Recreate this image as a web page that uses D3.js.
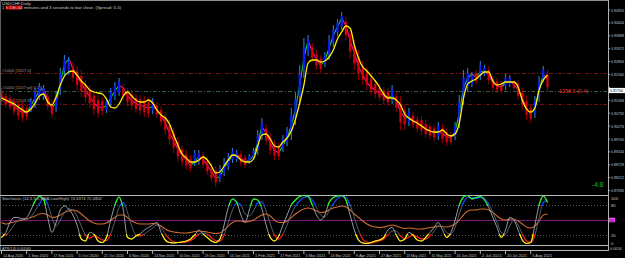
<!DOCTYPE html>
<html>
<head>
<meta charset="utf-8">
<script src="https://cdn.jsdelivr.net/npm/d3@7"></script>
<style>
  html, body { margin: 0; padding: 0; background: #000; }
  svg { display: block; font-family: "Liberation Sans", Arial, sans-serif; }
</style>
</head>
<body>
<div id="chart"></div>
<script>
// USDCHF daily, one bar per two sessions, prices in points (x 10000)
const dateLabels = ["14 Aug 2020", "1 Sep 2020", "17 Sep 2020", "5 Oct 2020", "21 Oct 2020", "6 Nov 2020",
  "24 Nov 2020", "10 Dec 2020", "29 Dec 2020", "14 Jan 2021", "1 Feb 2021", "17 Feb 2021", "5 Mar 2021",
  "24 Mar 2021", "9 Apr 2021", "27 Apr 2021", "13 May 2021", "31 May 2021", "16 Jun 2021", "2 Jul 2021",
  "20 Jul 2021", "5 Aug 2021"];
const priceTicks = [0.94920, 0.94404, 0.93888, 0.93372, 0.92856, 0.92340, 0.91824, 0.91308,
  0.90792, 0.90276, 0.89760, 0.89244, 0.88728, 0.88212, 0.87696];

const hi = [9180,9160,9152,9140,9132,9124,9112,9140,9180,9200,
  9192,9160,9132,9164,9260,9312,9304,9284,9268,9252,
  9212,9192,9172,9152,9144,9140,9180,9204,9220,9196,
  9180,9172,9156,9152,9148,9140,9140,9124,9108,9084,
  9052,9020,8984,8952,8932,8912,8932,8932,8924,8904,
  8880,8868,8872,8900,8920,8940,8932,8928,8912,8916,
  8940,9012,9060,9036,9000,8972,8960,8992,9024,9100,
  9164,9272,9380,9392,9360,9332,9312,9324,9392,9432,
  9456,9484,9464,9420,9372,9332,9292,9264,9236,9212,
  9196,9184,9180,9192,9164,9148,9112,9100,9084,9068,
  9068,9052,9040,9032,9044,9036,9020,9004,9044,9152,
  9252,9260,9244,9252,9288,9272,9268,9228,9220,9208,
  9236,9232,9212,9212,9180,9148,9116,9148,9228,9268,
  9252];
const lo = [9112,9100,9092,9072,9052,9044,9052,9084,9100,9132,
  9132,9092,9060,9084,9152,9232,9232,9204,9172,9144,
  9124,9100,9072,9060,9072,9080,9100,9132,9148,9132,
  9108,9092,9080,9072,9064,9060,9076,9060,9028,8992,
  8952,8920,8884,8868,8852,8844,8868,8872,8860,8832,
  8804,8784,8804,8828,8852,8880,8884,8868,8860,8876,
  8892,8912,8972,8952,8912,8892,8892,8924,8948,8972,
  9032,9112,9220,9308,9284,9252,9240,9264,9292,9344,
  9388,9412,9372,9300,9252,9212,9192,9172,9152,9140,
  9128,9116,9108,9116,9084,9012,9012,9028,9020,9004,
  8992,8980,8976,8968,8972,8960,8948,8952,8972,9020,
  9112,9164,9184,9196,9212,9228,9196,9168,9160,9156,
  9172,9184,9172,9132,9092,9052,9040,9060,9124,9204,
  9164];
const fast = [9146,9130,9120,9106,9092,9082,9080,9110,9140,9168,
  9178,9135,9100,9120,9200,9275,9295,9260,9225,9200,
  9170,9145,9120,9105,9100,9110,9140,9168,9190,9180,
  9150,9130,9118,9110,9105,9100,9105,9095,9070,9040,
  9000,8970,8935,8910,8890,8870,8885,8905,8895,8870,
  8845,8820,8825,8860,8885,8910,8915,8900,8885,8890,
  8910,8960,9025,9000,8960,8930,8920,8950,8980,9030,
  9095,9190,9300,9370,9325,9295,9270,9290,9340,9390,
  9425,9460,9430,9370,9320,9265,9235,9200,9185,9170,
  9160,9150,9140,9150,9130,9085,9060,9062,9052,9038,
  9030,9018,9008,9000,9005,8998,8985,8982,9005,9080,
  9180,9220,9235,9225,9245,9248,9235,9200,9190,9182,
  9200,9208,9195,9172,9138,9100,9075,9100,9170,9235,
  9215];
const slow = [9140,9132,9124,9116,9104,9092,9084,9096,9120,9148,
  9156,9124,9112,9144,9192,9228,9244,9248,9232,9208,
  9192,9172,9164,9160,9156,9136,9104,9100,9116,9148,
  9164,9148,9132,9124,9124,9132,9120,9092,9072,9060,
  9036,8992,8952,8916,8900,8884,8884,8892,8904,8892,
  8868,8840,8844,8868,8892,8912,8908,8892,8884,8884,
  8896,8948,8992,8996,8976,8948,8944,8964,8980,9008,
  9056,9120,9192,9280,9292,9292,9284,9288,9304,9332,
  9376,9404,9428,9420,9352,9300,9264,9248,9228,9208,
  9184,9156,9140,9140,9132,9112,9076,9060,9048,9040,
  9028,9016,9008,9004,9004,9012,8996,8988,8996,9040,
  9140,9196,9208,9216,9232,9244,9244,9208,9192,9196,
  9204,9204,9204,9184,9132,9096,9084,9100,9172,9212,
  9232];

const stochK = [15,25,45,55,55,52,55,70,88,97,
  92,55,25,45,70,78,72,60,40,12,
  8,25,22,8,5,15,50,80,96,70,
  15,12,18,22,30,35,40,45,25,10,
  5,4,5,6,8,12,20,30,22,15,
  8,5,12,40,75,92,85,60,45,70,
  92,90,72,40,15,8,18,40,60,80,
  90,97,99,97,80,60,50,60,85,95,
  98,99,90,60,30,10,4,3,5,8,
  10,15,30,35,20,8,12,25,20,10,
  8,15,25,35,45,30,15,25,50,80,
  96,99,92,95,97,90,75,55,35,15,
  30,55,50,30,10,3,5,40,80,98,
  85];
const stochD = [25,20,28,40,50,53,52,57,68,82,
  93,82,55,38,50,65,72,70,57,38,
  20,14,18,15,10,9,22,48,75,85,
  65,38,20,18,22,28,34,40,35,22,
  12,6,5,5,6,9,14,22,24,22,
  14,9,8,20,45,70,84,80,62,58,
  68,84,86,68,42,20,12,22,40,62,
  78,88,95,97,90,75,60,56,68,82,
  93,97,95,80,55,30,12,6,4,6,
  8,12,20,28,28,18,12,16,20,16,
  12,12,18,27,38,36,25,22,35,62,
  85,95,95,93,95,93,82,65,45,25,
  22,38,50,40,22,8,5,20,55,85,
  90];
const stochSlow = [45,42,44,46,48,50,52,55,58,62,
  63,60,55,56,60,65,68,70,68,62,
  55,48,44,42,42,44,50,55,60,60,
  55,48,44,42,42,42,43,42,38,32,
  28,26,25,24,24,25,27,28,27,26,
  24,23,24,30,38,45,48,48,46,47,
  50,55,60,62,58,50,45,45,48,55,
  62,68,72,74,72,68,65,66,70,74,
  76,78,76,70,62,55,48,42,38,36,
  35,36,38,40,38,35,33,34,33,32,
  32,33,35,36,38,37,36,38,42,50,
  60,68,70,70,72,72,70,65,58,52,
  50,52,52,48,42,36,34,38,48,60,
  62];
const stochLevels = [100, 80, 50, 20, 0];

const levelPrices = [9240, 9170, 9118];
const levelTexts = ["#1000 [1107.0]", "#1000 [1107 pt] 0.34", "#1000 [1103.3]"];
const lastPrice = 9170;

const W = 625, H = 258, plotR = 608;

const svg = d3.select("#chart").append("svg")
  .attr("width", W).attr("height", H);
svg.append("rect").attr("width", W).attr("height", H).attr("fill", "#000");

const x = d3.scaleLinear([0, hi.length - 1], [1.5, 547.5]);
const y = d3.scaleLinear([8700, 9500], [208, 8]);
const ys = d3.scaleLinear([0, 100], [245, 195]);

const defs = svg.append("defs");
defs.append("clipPath").attr("id", "mainClip")
  .append("rect").attr("x", 0).attr("y", 1).attr("width", plotR).attr("height", 194);
defs.append("clipPath").attr("id", "subClip")
  .append("rect").attr("x", 0).attr("y", 195.5).attr("width", plotR).attr("height", 50);
defs.append("clipPath").attr("id", "topZone")
  .append("rect").attr("x", 0).attr("y", 190).attr("width", plotR).attr("height", ys(80) - 190 + 1);
defs.append("clipPath").attr("id", "botZone")
  .append("rect").attr("x", 0).attr("y", ys(20) - 1).attr("width", plotR).attr("height", 250 - ys(20));

// ---- main window
const main = svg.append("g").attr("clip-path", "url(#mainClip)");

// order / level lines
main.selectAll("line.lvl")
  .data(levelPrices)
  .join("line")
    .attr("x1", 0).attr("x2", plotR)
    .attr("y1", d => Math.round(y(d)) + 0.5).attr("y2", d => Math.round(y(d)) + 0.5)
    .attr("stroke", (d, i) => i === 1 ? "#3c5a48" : "#7a1010")
    .attr("stroke-width", 1)
    .attr("stroke-dasharray", "4,2,1,2");

main.selectAll("text.lvl")
  .data(levelPrices)
  .join("text")
    .attr("x", 2).attr("y", d => y(d) - 1.5)
    .attr("fill", "#9a9a9a").attr("font-size", 4.4)
    .text((d, i) => levelTexts[i]);

const I = d3.range(hi.length);
const up = i => i === 0 ? fast[1] >= fast[0] : fast[i] >= fast[i - 1];

// fast line, coloured by direction (under the bars)
main.append("g").selectAll("line")
  .data(I.slice(1))
  .join("line")
    .attr("x1", i => x(i - 1)).attr("y1", i => y(fast[i - 1]))
    .attr("x2", i => x(i)).attr("y2", i => y(fast[i]))
    .attr("stroke", i => fast[i] >= fast[i - 1] ? "#18d030" : "#f01c8c")
    .attr("stroke-width", 1.1)
    .attr("stroke-linecap", "round");

// bars
main.append("g").selectAll("line")
  .data(I)
  .join("line")
    .attr("x1", i => x(i)).attr("x2", i => x(i))
    .attr("y1", i => y(hi[i])).attr("y2", i => y(lo[i]))
    .attr("stroke", i => up(i) ? "#2a78d8" : "#8a0000")
    .attr("stroke-width", 1.1);

main.append("g").selectAll("rect")
  .data(I)
  .join("rect")
    .attr("x", i => x(i) - 1.1)
    .attr("width", 2.2)
    .attr("y", i => y(hi[i]) + (y(lo[i]) - y(hi[i])) * 0.22)
    .attr("height", i => (y(lo[i]) - y(hi[i])) * 0.56)
    .attr("fill", i => up(i) ? "#0a1cff" : "#d8000a");

// slow line
main.append("path")
  .datum(I)
  .attr("fill", "none")
  .attr("stroke", "#ffee00")
  .attr("stroke-width", 1.3)
  .attr("d", d3.line().x(i => x(i)).y(i => y(slow[i])).curve(d3.curveMonotoneX));

// header texts
svg.append("text").attr("x", 2).attr("y", 4.5)
  .attr("fill", "#c8c8c8").attr("font-size", 4.4).text("USDCHF,Daily");
svg.append("rect").attr("x", 6).attr("y", 5.6).attr("width", 16).attr("height", 4).attr("fill", "#d00000");
svg.append("text").attr("x", 2).attr("y", 9.2)
  .attr("fill", "#c8c8c8").attr("font-size", 4.4)
  .text("1 h 13h 44 minutes and 3 seconds to bar close. (Spread: 0.4)");

svg.append("text").attr("x", 559).attr("y", y(lastPrice) + 2)
  .attr("fill", "#ff2020").attr("font-size", 5.4).text("1258.3 (0.4)");
svg.append("text").attr("x", 592).attr("y", 187)
  .attr("fill", "#10c020").attr("font-size", 6.6).text("-4.8");

// ---- price axis
svg.append("line").attr("x1", plotR + 0.5).attr("x2", plotR + 0.5).attr("y1", 0).attr("y2", 251)
  .attr("stroke", "#b0b0b0");
svg.append("g").selectAll("line")
  .data(priceTicks)
  .join("line")
    .attr("x1", plotR).attr("x2", plotR + 2)
    .attr("y1", d => y(d * 10000)).attr("y2", d => y(d * 10000))
    .attr("stroke", "#b0b0b0");
svg.append("g").selectAll("text")
  .data(priceTicks.filter(d => Math.abs(y(d * 10000) - y(lastPrice)) > 5))
  .join("text")
    .attr("x", plotR + 3).attr("y", d => y(d * 10000) + 1.5)
    .attr("fill", "#c0c0c0").attr("font-size", 4.2)
    .attr("textLength", 13).attr("lengthAdjust", "spacingAndGlyphs")
    .text(d => d.toFixed(5));
svg.append("rect").attr("x", plotR + 1).attr("y", y(lastPrice) - 2.6)
  .attr("width", 16).attr("height", 5.2).attr("fill", "#ffffff");
svg.append("text").attr("x", plotR + 2).attr("y", y(lastPrice) + 1.5)
  .attr("fill", "#000").attr("font-size", 4.2)
  .attr("textLength", 13).attr("lengthAdjust", "spacingAndGlyphs")
  .text((lastPrice / 10000).toFixed(5));

// frame
svg.append("line").attr("x1", 0).attr("x2", plotR).attr("y1", 0.5).attr("y2", 0.5).attr("stroke", "#909090");
svg.append("line").attr("x1", 0.5).attr("x2", 0.5).attr("y1", 0).attr("y2", 251).attr("stroke", "#606060");

// ---- stochastic window
[195.5, 245.5, 250.5].forEach(v => {
  svg.append("line").attr("x1", 0).attr("x2", plotR).attr("y1", v).attr("y2", v)
    .attr("stroke", "#b8b8b8").attr("stroke-width", 1);
});

const sub = svg.append("g").attr("clip-path", "url(#subClip)");
sub.selectAll("line.lv")
  .data([80, 20])
  .join("line")
    .attr("x1", 0).attr("x2", plotR)
    .attr("y1", d => Math.round(ys(d)) + 0.5).attr("y2", d => Math.round(ys(d)) + 0.5)
    .attr("stroke", "#5a5a5a").attr("stroke-dasharray", "1,2");
sub.append("line")
  .attr("x1", 0).attr("x2", plotR)
  .attr("y1", Math.round(ys(50)) + 0.5).attr("y2", Math.round(ys(50)) + 0.5)
  .attr("stroke", "#7a1a7a");

const sLine = arr => d3.line().x(i => x(i)).y(i => ys(arr[i])).curve(d3.curveMonotoneX)(I);

sub.append("path").attr("d", sLine(stochSlow))
  .attr("fill", "none").attr("stroke", "#d06a2e").attr("stroke-width", 1.1);

const kdSeries = [
  { arr: stochD, mid: "#5c6d7c", top: "#1040ff", bot: "#ff1010" },
  { arr: stochK, mid: "#a8aeb4", top: "#10ff20", bot: "#ffee00" }
];
kdSeries.forEach(s => {
  sub.append("path").attr("d", sLine(s.arr))
    .attr("fill", "none").attr("stroke", s.mid).attr("stroke-width", 0.9);
  sub.append("path").attr("d", sLine(s.arr)).attr("clip-path", "url(#topZone)")
    .attr("fill", "none").attr("stroke", s.top).attr("stroke-width", 1.2);
  sub.append("path").attr("d", sLine(s.arr)).attr("clip-path", "url(#botZone)")
    .attr("fill", "none").attr("stroke", s.bot).attr("stroke-width", 1.2);
});

svg.append("text").attr("x", 2).attr("y", 200)
  .attr("fill", "#c0c0c0").attr("font-size", 4.2)
  .text("Stochastic (14,3,3,1,SMA,Low/High) 74.6374 72.0802");

svg.append("g").selectAll("text")
  .data(stochLevels.filter(d => d !== 50))
  .join("text")
    .attr("x", plotR + 3).attr("y", d => Math.min(Math.max(ys(d), 198), 243) + 1.5)
    .attr("fill", "#c0c0c0").attr("font-size", 4.2)
    .text(d => d);
svg.append("rect").attr("x", plotR + 1).attr("y", ys(50) - 2.3).attr("width", 6).attr("height", 4.6)
  .attr("fill", "#ff40ff");
svg.append("text").attr("x", plotR + 1.5).attr("y", ys(50) + 1.5)
  .attr("fill", "#000").attr("font-size", 4).text("50");

// ATR window
svg.append("text").attr("x", 2).attr("y", 249.6)
  .attr("fill", "#c0c0c0").attr("font-size", 3.8).text("ATR(14) 0.00540");
svg.append("text").attr("x", plotR + 2).attr("y", 249.8)
  .attr("fill", "#c0c0c0").attr("font-size", 3.8).text("0.0054");

// ---- date axis
const dateIdx = dateLabels.map((d, k) => k * 6);
svg.append("g").selectAll("line")
  .data(dateIdx)
  .join("line")
    .attr("x1", i => x(i)).attr("x2", i => x(i))
    .attr("y1", 251).attr("y2", 254)
    .attr("stroke", "#b0b0b0");
svg.append("g").selectAll("text")
  .data(dateIdx)
  .join("text")
    .attr("x", i => x(i) + 1.5).attr("y", 256.5)
    .attr("fill", "#c0c0c0").attr("font-size", 4)
    .attr("textLength", 20).attr("lengthAdjust", "spacingAndGlyphs")
    .text((i, k) => dateLabels[k]);
</script>
</body>
</html>
